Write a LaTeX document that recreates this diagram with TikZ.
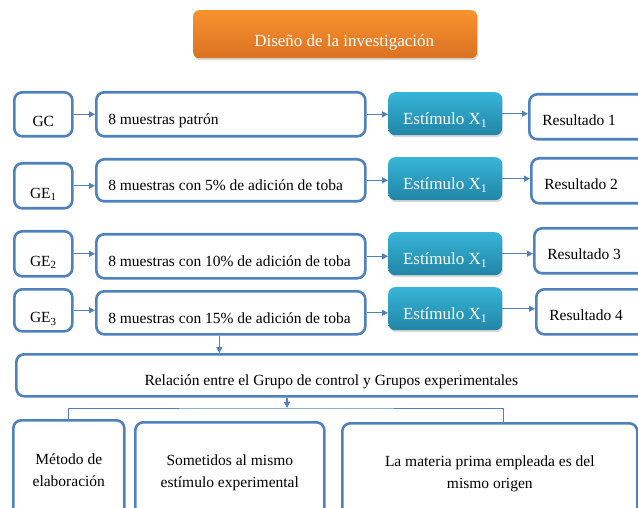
\documentclass[tikz,border=0pt]{standalone}
\usepackage{fontspec}
\setmainfont{Liberation Serif}
\usetikzlibrary{shadows}
\usetikzlibrary{arrows.meta}
\definecolor{BoxBlue}{HTML}{4F81BD}
\definecolor{OrangeTop}{HTML}{F9922F}
\definecolor{OrangeBot}{HTML}{DA7222}
\definecolor{TealTop}{HTML}{37B5D8}
\definecolor{TealBot}{HTML}{2185A6}
\newcommand{\lefttext}[2]{\makebox[#1][l]{#2}}

\begin{document}
\begin{tikzpicture}[x=1pt, y=-1pt,
	box/.style={draw=BoxBlue, line width=2.6pt, rounded corners=8pt, anchor=north west,
		inner sep=0pt, font=\fontsize{15.5}{22}\selectfont},
	grp/.style={box, minimum width=58pt, text height=27pt, text depth=2pt},
	smp/.style={box, minimum width=269pt, text height=23pt, text depth=2pt},
	res/.style={box, minimum width=150pt, text height=19pt, text depth=2pt},
	stim/.style={anchor=north west, rounded corners=7pt, inner sep=0pt,
		top color=TealTop, bottom color=TealBot, text=white,
		font=\fontsize{17}{20}\selectfont, minimum width=114pt,
		text height=24pt, text depth=2pt,
		drop shadow={shadow xshift=1pt, shadow yshift=-2pt, opacity=0.3}},
	trait/.style={box, align=center, minimum height=100pt},
	link/.style={draw=BoxBlue, line width=1.2pt, -{Triangle[length=6pt, width=6pt]}},
	branch/.style={draw=BoxBlue, line width=1pt}]
	\useasboundingbox (0,0) rectangle (638,508);
	\clip (0,0) rectangle (638,508);

	\node[anchor=north west, rounded corners=6pt, inner sep=0pt,
		top color=OrangeTop, bottom color=OrangeBot, text=white,
		font=\fontsize{17}{20}\selectfont, minimum width=284pt, minimum height=48pt,
		text height=26pt, text depth=2pt,
		drop shadow={shadow xshift=1pt, shadow yshift=-2pt, opacity=0.3}]
		(title) at (193,10) {\hspace*{18pt}Diseño de la investigación};

	\node[grp, minimum height=44pt] (g1) at (13,91) {GC};
	\node[grp, minimum height=45pt] (g2) at (13,162) {GE\textsubscript{1}};
	\node[grp, minimum height=45pt] (g3) at (13,230) {GE\textsubscript{2}};
	\node[grp, minimum height=42pt] (g4) at (13,288) {GE\textsubscript{3}};

	\node[smp, minimum height=44pt] (m1) at (95,91) {\lefttext{245pt}{8 muestras patrón}};
	\node[smp, minimum height=42pt] (m2) at (95,158) {\lefttext{245pt}{8 muestras con 5\% de adición de toba}};
	\node[smp, minimum height=44pt] (m3) at (95,233) {\lefttext{245pt}{8 muestras con 10\% de adición de toba}};
	\node[smp, minimum height=43pt] (m4) at (95,290) {\lefttext{245pt}{8 muestras con 15\% de adición de toba}};

	\node[stim, minimum height=43pt] (e1) at (388,92) {Estímulo X\textsubscript{1}};
	\node[stim, minimum height=43pt] (e2) at (388,157) {Estímulo X\textsubscript{1}};
	\node[stim, minimum height=43pt] (e3) at (388,232) {Estímulo X\textsubscript{1}};
	\node[stim, minimum height=43pt] (e4) at (388,287) {Estímulo X\textsubscript{1}};

	\node[res, minimum height=45pt] (r1) at (528,93) {\lefttext{124pt}{Resultado 1}};
	\node[res, minimum height=45pt] (r2) at (530,157) {\lefttext{124pt}{Resultado 2}};
	\node[res, minimum height=45pt] (r3) at (533,227) {\lefttext{124pt}{Resultado 3}};
	\node[res, minimum height=45pt] (r4) at (535,288) {\lefttext{124pt}{Resultado 4}};

	\foreach \i in {1,...,4} {
		\draw[link] (g\i.east) -- (g\i.east -| m\i.west);
		\draw[link] (m\i.east) -- (m\i.east -| e\i.west);
		\draw[link] (e\i.east) -- (e\i.east -| r\i.west);
	}

	\node[box, minimum width=630pt, minimum height=42pt, text height=23pt, text depth=2pt]
		(rel) at (15,353) {Relación entre el Grupo de control y Grupos experimentales};
	\draw[link] ([xshift=-11.5pt]m4.south) -- ([xshift=-11.5pt]m4.south |- rel.north);

	\node[trait, minimum width=111pt] (met) at (12,419) {Método de\\elaboración};
	\node[trait, minimum width=189pt] (som) at (134,421) {Sometidos al mismo\\estímulo experimental};
	\node[trait, minimum width=295pt] (mat) at (341,422) {La materia prima empleada es del\\mismo origen};

	\coordinate (split) at (287,408);
	\draw[link] (split |- rel.south) -- (split);
	\draw[branch] (met.north) |- (split) -| ([xshift=13.5pt]mat.north);
\end{tikzpicture}
\end{document}
